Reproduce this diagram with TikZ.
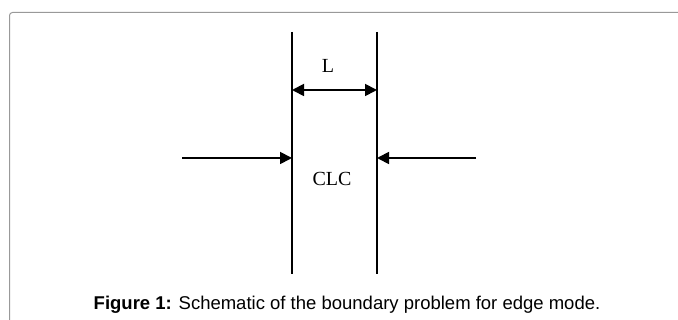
\documentclass[tikz,border=0pt]{standalone}
\usepackage{fontspec}
\setmainfont{Liberation Serif}
\newfontfamily\legendafont{Liberation Sans}
\usetikzlibrary{arrows.meta, positioning}

\begin{document}
\begin{tikzpicture}[
            x=1pt,
            y=-1pt,
            >={Triangle[length=12pt, width=12pt]},
            parede/.style={
                line width=1.4pt
            },
            seta/.style={
                ->,
                line width=1.8pt
            },
            rotulo/.style={
                font=\fontsize{20}{24}\selectfont,
                inner sep=0pt
            }
        ]
            \useasboundingbox (0,0) rectangle (678,320);

            % Moldura da figura
            \draw [gray!80, line width=1pt, rounded corners=3pt]
                (9.5,320) -- (9.5,12.5) -- (678,12.5);

            % Paredes da celula
            \coordinate (esqTopo) at (292,32);
            \coordinate (esqBase) at (292,274);
            \coordinate (dirTopo) at (377,32);
            \coordinate (dirBase) at (377,274);
            \draw [parede] (esqTopo) -- (esqBase);
            \draw [parede] (dirTopo) -- (dirBase);

            % Largura L
            \coordinate (esqL) at (292,90);
            \coordinate (dirL) at (377,90);
            \draw [seta, <->] (esqL) -- (dirL);
            \node [rotulo] (largura) at (328,66) {L};

            % Entradas laterais
            \coordinate (fonteEsq) at (182,158);
            \coordinate (alvoEsq) at (292,158);
            \coordinate (fonteDir) at (476,158);
            \coordinate (alvoDir) at (377,158);
            \draw [seta] (fonteEsq) -- (alvoEsq);
            \draw [seta] (fonteDir) -- (alvoDir);

            % Meio
            \node [rotulo] (meio) at (332,179) {CLC};

            % Legenda
            \node [font=\legendafont\fontsize{18.5}{22}\selectfont, inner sep=0pt] (legenda) at (347,305)
                {\textbf{Figure 1:} Schematic of the boundary problem for edge mode.};
        \end{tikzpicture}
\end{document}
